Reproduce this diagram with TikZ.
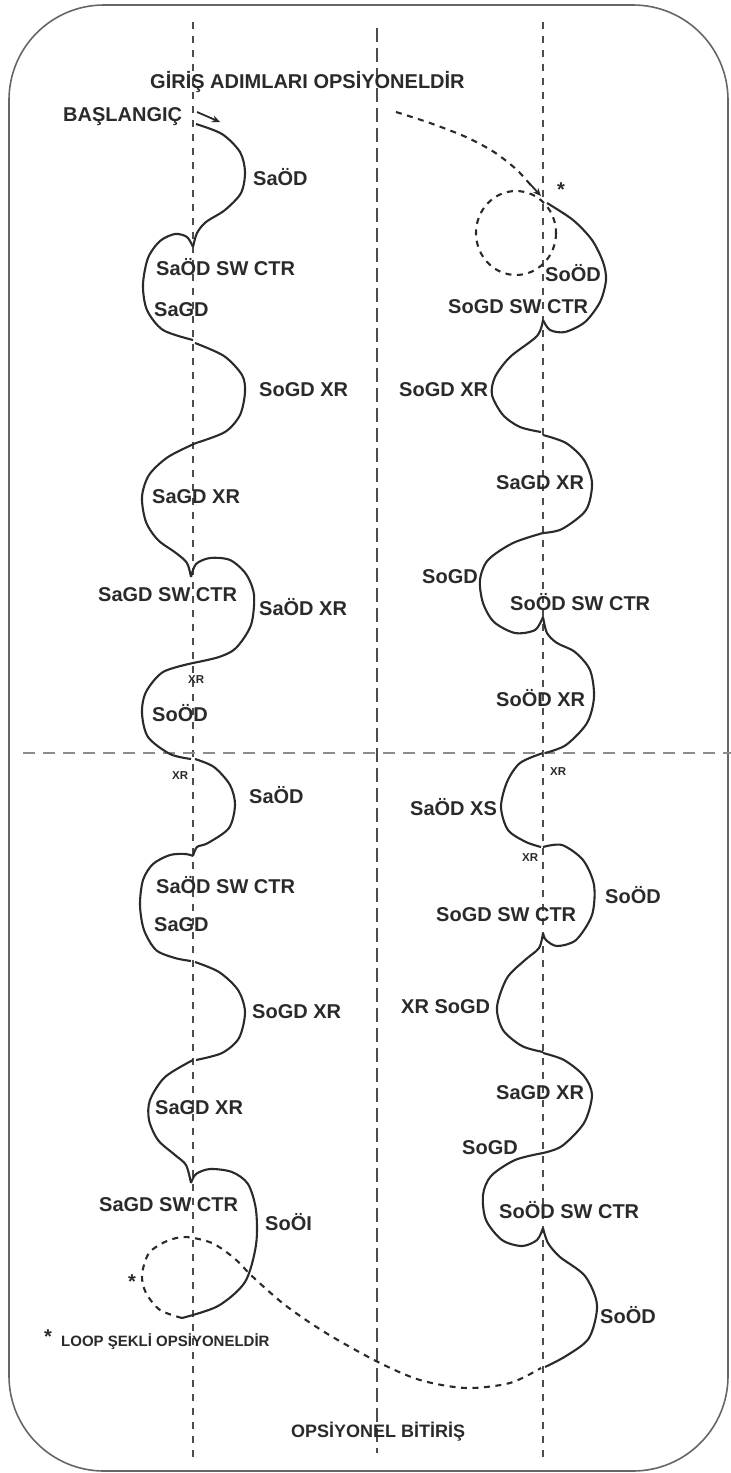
\documentclass[tikz,border=0pt]{standalone}
\usepackage{fontspec}
\setmainfont{Liberation Sans}
\usetikzlibrary{arrows.meta}
\definecolor{ink}{HTML}{2A2A2A}
\begin{document}
\begin{tikzpicture}[x=1pt,y=-1pt,
  lbl/.style={anchor=west,inner sep=0pt,text=ink,font=\fontsize{20}{22}\selectfont\bfseries},
  sml/.style={anchor=west,inner sep=0pt,text=ink,font=\fontsize{11.5}{13}\selectfont\bfseries},
  note/.style={anchor=west,inner sep=0pt,text=ink,font=\fontsize{15}{17}\selectfont\bfseries},
  endnote/.style={anchor=west,inner sep=0pt,text=ink,font=\fontsize{18}{20}\selectfont\bfseries},
  track/.style={line width=2.1pt,ink,line join=round},
  dtrack/.style={line width=2.1pt,ink,dash pattern=on 6pt off 5.5pt},
  axisline/.style={line width=1.5pt,black!70,dash pattern=on 7pt off 7pt},
  midline/.style={line width=1.5pt,black!70,dash pattern=on 14pt off 6pt},
  hline/.style={line width=1.8pt,black!45,dash pattern=on 12pt off 8pt},
  frame/.style={line width=1.6pt,black!60,rounded corners=95pt}]
\useasboundingbox (0,0) rectangle (731,1473);
\draw[frame] (9,5) rectangle (728,1471);
% guide lines
\coordinate (l1) at (193,22);  \coordinate (l2) at (193,1460);
\coordinate (m1) at (377,28);  \coordinate (m2) at (377,1453);
\coordinate (r1) at (543,22);  \coordinate (r2) at (543,1460);
\coordinate (h1) at (23,753);  \coordinate (h2) at (731,753);
\draw[axisline] (l1) -- (l2);
\draw[midline] (m1) -- (m2);
\draw[axisline] (r1) -- (r2);
\draw[hline] (h1) -- (h2);
% start arrow
\coordinate (s1) at (197,112); \coordinate (s2) at (220,122);
\draw[line width=1.8pt,ink,-{Stealth[length=8pt,width=7pt]}] (s1) -- (s2);
% left track
\draw[track] plot[smooth] coordinates {(196,124) (222,134) (240,152) (245,172) (241,193) (225,210) (206,222) (197,233) (193,247)};
\draw[track] plot[smooth] coordinates {(193,247) (187,237) (175,234) (160,241) (148,258) (143,285) (147,310) (163,330) (193,340)};
\draw[track] plot[smooth] coordinates {(195,343) (224,356) (242,375) (245,392) (240,415) (225,432) (196,443)};
\draw[track] plot[smooth] coordinates {(196,443) (168,457) (149,475) (142,497) (146,522) (158,540) (176,553) (187,563) (191,577)};
\draw[track] plot[smooth] coordinates {(191,577) (196,564) (210,558) (230,560) (246,574) (254,595) (251,625) (236,648) (219,657) (193,663)};
\draw[track] plot[smooth] coordinates {(193,663) (163,672) (146,692) (142,713) (148,737) (170,754) (191,759)};
\draw[track] plot[smooth] coordinates {(195,759) (214,767) (230,785) (235,805) (229,828) (208,843) (197,847) (193,856)};
\draw[track] plot[smooth] coordinates {(193,856) (186,854) (170,855) (153,864) (143,880) (140,905) (144,930) (156,950) (175,958) (191,961)};
\draw[track] plot[smooth] coordinates {(195,962) (219,972) (238,990) (245,1012) (239,1038) (222,1053) (196,1060)};
\draw[track] plot[smooth] coordinates {(193,1060) (165,1077) (150,1100) (149,1120) (158,1140) (175,1155) (186,1165) (191,1183)};
\draw[track] plot[smooth] coordinates {(191,1183) (196,1174) (210,1169) (232,1172) (248,1184) (256,1210) (256,1245) (245,1282) (218,1306) (182,1318)};
% optional loop and finish
\draw[dtrack] plot[smooth] coordinates {(182,1318) (160,1310) (146,1293) (142,1275) (149,1253) (167,1241) (186,1237) (212,1243) (234,1258) (253,1277) (285,1305) (326,1333) (378,1362) (420,1380) (466,1388) (510,1383) (541,1368)};
% right track entry
\draw[dtrack] plot[smooth] coordinates {(396,112) (430,123) (466,137) (494,152) (517,170) (534,189)};
\coordinate (a1) at (530,184); \coordinate (a2) at (541,196);
\draw[line width=1.8pt,ink,-{Stealth[length=8pt,width=7pt]}] (a1) -- (a2);
\draw[dtrack] (516,233) ellipse [x radius=40, y radius=42];
% right track
\draw[track] plot[smooth] coordinates {(547,203) (573,220) (592,240) (603,262) (606,280) (600,302) (585,322) (565,332) (550,330) (543,320)};
\draw[track] plot[smooth] coordinates {(543,320) (537,336) (510,357) (495,377) (492,395) (503,415) (520,427) (541,432)};
\draw[track] plot[smooth] coordinates {(543,435) (566,443) (584,460) (592,483) (586,510) (562,529) (543,533)};
\draw[track] plot[smooth] coordinates {(543,533) (513,543) (488,560) (480,580) (483,603) (494,622) (515,633) (535,630) (543,617)};
\draw[track] plot[smooth] coordinates {(543,617) (547,633) (557,643) (575,652) (590,670) (594,697) (587,723) (566,745) (545,753)};
\draw[track] plot[smooth] coordinates {(543,753) (520,763) (507,782) (501,807) (508,830) (526,842) (541,847)};
\draw[track] plot[smooth] coordinates {(543,847) (562,845) (583,860) (594,885) (592,915) (576,940) (557,946) (546,940) (543,933)};
\draw[track] plot[smooth] coordinates {(543,933) (539,948) (525,960) (507,978) (497,1007) (503,1030) (522,1046) (543,1052)};
\draw[track] plot[smooth] coordinates {(543,1053) (564,1060) (584,1076) (592,1095) (584,1123) (562,1146) (543,1153)};
\draw[track] plot[smooth] coordinates {(543,1153) (515,1160) (491,1176) (483,1195) (486,1220) (502,1240) (522,1246) (537,1240) (543,1228)};
\draw[track] plot[smooth] coordinates {(543,1228) (548,1243) (560,1257) (585,1276) (597,1305) (589,1338) (566,1356) (545,1367)};
% texts
\node[lbl] (t0) at (150,82) {GİRİŞ ADIMLARI OPSİYONELDİR};
\node[lbl] (t1) at (63,117) {BAŞLANGIÇ};
\node[lbl] (a01) at (253,177) {SaÖD};
\node[lbl] (a02) at (156,267) {SaÖD SW CTR};
\node[lbl] (a03) at (154,310) {SaGD};
\node[lbl] (a04) at (259,390) {SoGD XR};
\node[lbl] (a05) at (152,497) {SaGD XR};
\node[lbl] (a06) at (98,595) {SaGD SW CTR};
\node[lbl] (a07) at (259,607) {SaÖD XR};
\node[sml] (a08) at (188,680) {XR};
\node[lbl] (a09) at (152,713) {SoÖD};
\node[sml] (a10) at (172,776) {XR};
\node[lbl] (a11) at (249,795) {SaÖD};
\node[lbl] (a12) at (156,885) {SaÖD SW CTR};
\node[lbl] (a13) at (154,925) {SaGD};
\node[lbl] (a14) at (252,1012) {SoGD XR};
\node[lbl] (a15) at (155,1108) {SaGD XR};
\node[lbl] (a16) at (99,1205) {SaGD SW CTR};
\node[lbl] (a17) at (265,1222) {SoÖI};
\node[lbl] (a18) at (128,1282) {*};
\node[lbl] (a19) at (44,1337) {*};
\node[note] (a20) at (61,1342) {LOOP ŞEKLİ OPSİYONELDİR};
\node[endnote] (a21) at (291,1432) {OPSİYONEL BİTİRİŞ};
\node[lbl] (b00) at (557,190) {*};
\node[lbl] (b01) at (545,273) {SoÖD};
\node[lbl] (b02) at (448,307) {SoGD SW CTR};
\node[lbl] (b03) at (399,390) {SoGD XR};
\node[lbl] (b04) at (496,483) {SaGD XR};
\node[lbl] (b05) at (422,577) {SoGD};
\node[lbl] (b06) at (510,602) {SoÖD SW CTR};
\node[lbl] (b07) at (496,698) {SoÖD XR};
\node[sml] (b08) at (550,772) {XR};
\node[lbl] (b09) at (410,807) {SaÖD XS};
\node[sml] (b10) at (522,858) {XR};
\node[lbl] (b11) at (605,895) {SoÖD};
\node[lbl] (b12) at (436,915) {SoGD SW CTR};
\node[lbl] (b13) at (401,1007) {XR SoGD};
\node[lbl] (b14) at (496,1093) {SaGD XR};
\node[lbl] (b15) at (462,1148) {SoGD};
\node[lbl] (b16) at (499,1210) {SoÖD SW CTR};
\node[lbl] (b17) at (600,1315) {SoÖD};
\end{tikzpicture}
\end{document}
